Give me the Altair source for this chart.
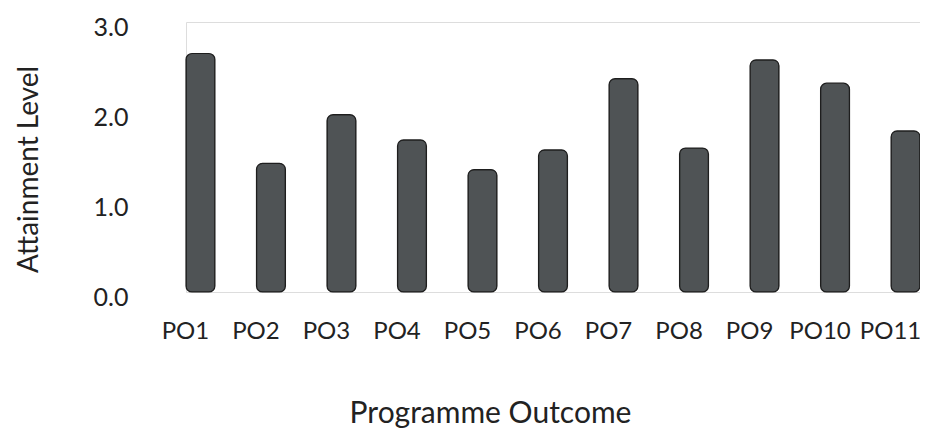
import altair as alt
import pandas as pd

outcomes = ["PO1", "PO2", "PO3", "PO4", "PO5", "PO6", "PO7", "PO8", "PO9", "PO10", "PO11"]
levels = [2.65, 1.43, 1.97, 1.69, 1.36, 1.58, 2.37, 1.60, 2.58, 2.32, 1.79]

df = pd.DataFrame({"Outcome": outcomes, "Level": levels})

FONT = "Lato"

chart = (
    alt.Chart(df)
    .mark_bar(
        color="#4f5355",
        stroke="#1e1e1e",
        strokeWidth=1.2,
        cornerRadius=6,
    )
    .encode(
        x=alt.X(
            "Outcome:N",
            sort=outcomes,
            scale=alt.Scale(paddingInner=0.59, paddingOuter=0),
            axis=alt.Axis(
                title="Programme Outcome",
                labelAngle=0,
                labelFont=FONT,
                labelFontSize=24,
                labelColor="#222222",
                labelPadding=27,
                labelOffset=-15,
                ticks=False,
                domain=False,
                grid=False,
                titleFont=FONT,
                titleFontSize=30,
                titleFontWeight="normal",
                titleColor="#222222",
                titleX=304,
                titleY=130,
                titleAlign="center",
                titleBaseline="alphabetic",
            ),
        ),
        y=alt.Y(
            "Level:Q",
            scale=alt.Scale(domain=[0, 3]),
            axis=alt.Axis(
                title="Attainment  Level",
                values=[0, 1, 2, 3],
                format=".1f",
                labelFont=FONT,
                labelFontSize=25,
                labelColor="#222222",
                labelPadding=58,
                labelOffset=5,
                ticks=False,
                domain=False,
                grid=False,
                titleFont=FONT,
                titleFontSize=28,
                titleFontWeight="normal",
                titleColor="#222222",
                titleAngle=-90,
                titleX=-157,
                titleY=147,
                titleAlign="center",
                titleBaseline="middle",
            ),
        ),
    )
    .properties(
        width=734,
        height=270,
        autosize=alt.AutoSizeParams(type="none"),
        padding={"left": 178, "top": 14, "right": 0, "bottom": 136},
    )
    .configure_view(stroke=None, fill=None)
    .configure_axis(grid=False, gridOpacity=0, domain=False, domainOpacity=0, ticks=False)
    .configure(background="white")
)

chart.save("out.html", embed_options={"renderer": "svg", "actions": False})
